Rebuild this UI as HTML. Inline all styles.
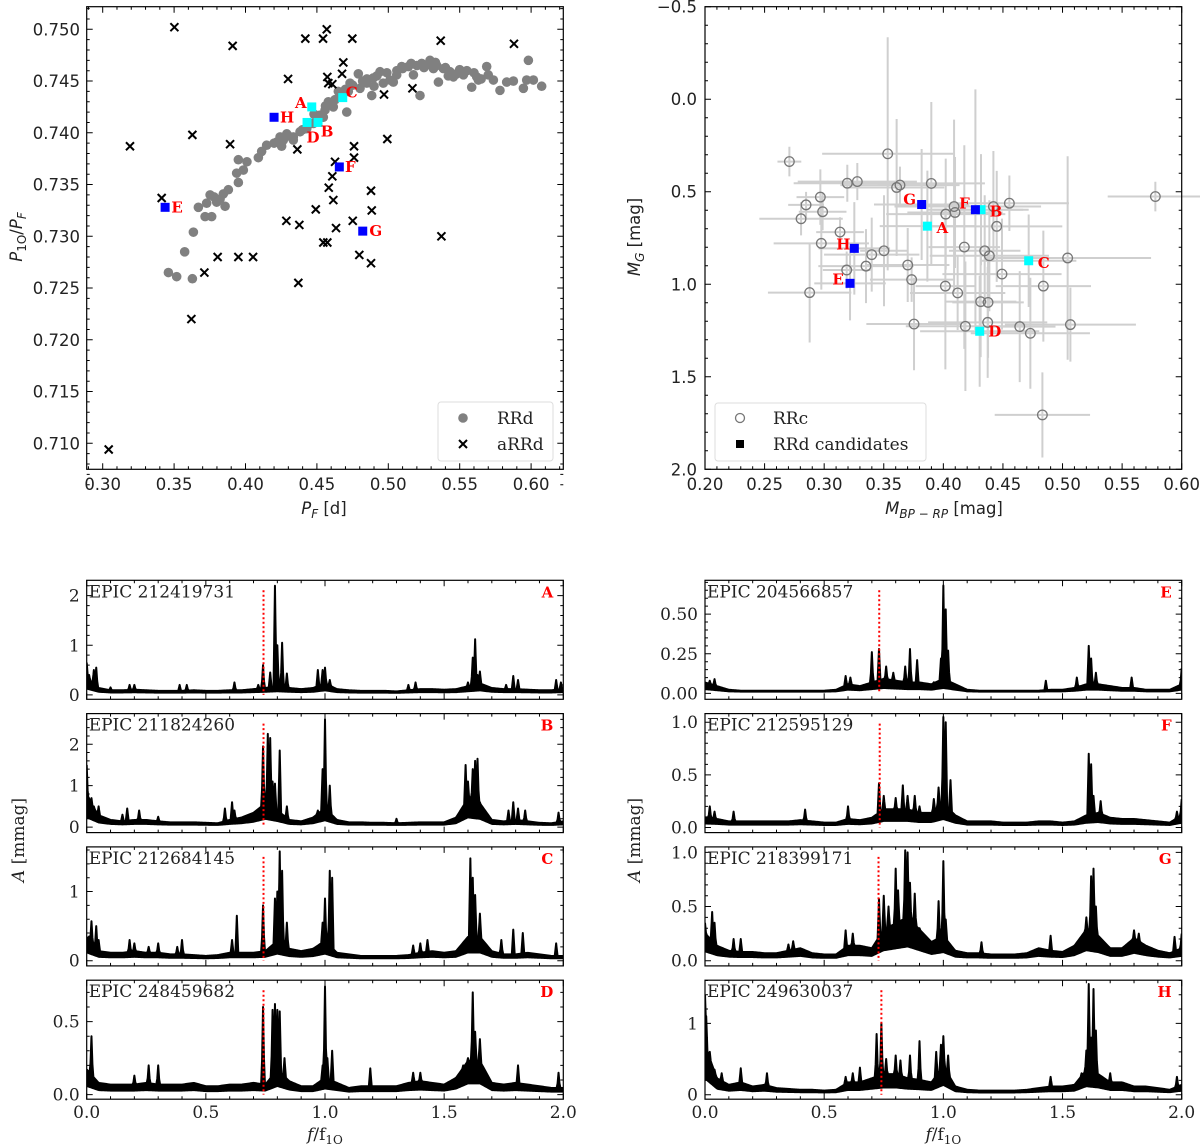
<!DOCTYPE html>
<html><head><meta charset="utf-8"><style>
body{margin:0;background:#fff}
svg{display:block}
.tk{font-family:"DejaVu Sans","Liberation Sans",sans-serif;font-size:16.5px;fill:#222}
.sf{font-family:"DejaVu Serif","Liberation Serif",serif;font-size:17px;fill:#222}
.lab{font-family:"DejaVu Serif","Liberation Serif",serif;font-weight:bold;font-size:15px;fill:#f00}
</style></head><body>
<svg id="fig" width="1200" height="1144" viewBox="0 0 1200 1144" xmlns="http://www.w3.org/2000/svg"></svg>
<script>
// ---------- Panel 1 data: period ratio vs fundamental period ----------
const rrdPF=[0.3460,0.3518,0.3628,0.3574,0.3635,0.3670,0.3717,0.3763,0.3728,0.3752,0.3798,0.3845,0.3857,0.3822,0.3950,0.3938,0.3985,0.3950,0.4090,0.4113,0.4148,0.4218,0.4242,0.4253,0.4289,0.4335,0.4382,0.4429,0.4475,0.4522,0.4557,0.4592,0.4627,0.4662,0.4709,0.4720,0.4732,0.4790,0.4802,0.4849,0.4884,0.4895,0.4942,0.4965,0.5012,0.5059,0.5094,0.5141,0.5176,0.5222,0.5234,0.5292,0.5316,0.5351,0.5386,0.5432,0.5479,0.5526,0.5584,0.5619,0.5689,0.5736,0.5782,0.5829,0.5876,0.5946,0.5981,0.5969,0.6016,0.6074,0.5339,0.5456,0.5631,0.5035,0.4615,0.4545,0.4335,0.4265,0.4500,0.4580,0.4650,0.4750,0.4850,0.4920,0.4990,0.5100,0.5200,0.5280,0.5400,0.5500,0.5600,0.5700,0.4200,0.4300,0.4400,0.4480,0.4560,0.4700,0.4820,0.4900,0.5060,0.5160,0.5250,0.5330,0.5420,0.5550,0.5650,0.3780,0.3880,0.4010];
const rrdRatio=[0.7265,0.7261,0.7259,0.7285,0.7304,0.7328,0.7319,0.7319,0.7332,0.7340,0.7333,0.7341,0.7329,0.7336,0.7352,0.7361,0.7364,0.7374,0.7376,0.7382,0.7388,0.7391,0.7396,0.7387,0.7399,0.7396,0.7401,0.7404,0.7409,0.7417,0.7422,0.7428,0.7432,0.7435,0.7420,0.7440,0.7448,0.7457,0.7443,0.7448,0.7436,0.7453,0.7459,0.7448,0.7451,0.7456,0.7464,0.7464,0.7456,0.7436,0.7467,0.7470,0.7462,0.7449,0.7462,0.7459,0.7457,0.7456,0.7444,0.7454,0.7464,0.7451,0.7441,0.7449,0.7450,0.7443,0.7470,0.7451,0.7451,0.7445,0.7465,0.7454,0.7451,0.7449,0.7425,0.7415,0.7393,0.7393,0.7412,0.7430,0.7440,0.7446,0.7452,0.7455,0.7458,0.7462,0.7465,0.7466,0.7463,0.7461,0.7458,0.7456,0.7390,0.7397,0.7403,0.7418,0.7426,0.7442,0.7450,0.7445,0.7460,0.7467,0.7463,0.7468,0.7455,0.7460,0.7452,0.7338,0.7345,0.7372];
const arrdPF=[0.3502,0.3910,0.4569,0.4419,0.4543,0.4748,0.5367,0.5880,0.4685,0.4676,0.4573,0.4580,0.4608,0.4298,0.4970,0.5169,0.3628,0.3191,0.3892,0.4363,0.4760,0.4993,0.4760,0.4627,0.4608,0.4583,0.4615,0.4879,0.3413,0.4492,0.4884,0.4286,0.4377,0.4751,0.4634,0.5372,0.4545,0.4573,0.3805,0.3950,0.4053,0.4797,0.4879,0.3712,0.4370,0.3621,0.3042];
const arrdRatio=[0.7502,0.7484,0.7500,0.7491,0.7491,0.7491,0.7489,0.7486,0.7468,0.7457,0.7454,0.7448,0.7447,0.7452,0.7437,0.7443,0.7398,0.7387,0.7389,0.7384,0.7387,0.7394,0.7376,0.7372,0.7358,0.7347,0.7335,0.7344,0.7337,0.7326,0.7325,0.7315,0.7311,0.7315,0.7308,0.7300,0.7294,0.7294,0.7280,0.7280,0.7280,0.7282,0.7274,0.7265,0.7255,0.7220,0.7094];
const candNames=["A","B","C","D","E","F","G","H"];
const candColor=["#00ffff","#00ffff","#00ffff","#00ffff","#0000ff","#0000ff","#0000ff","#0000ff"];
const candPF=[0.4464,0.4508,0.4681,0.4431,0.3437,0.4657,0.4821,0.4200];
const candRatio=[0.7425,0.7410,0.7434,0.7410,0.7328,0.7367,0.7305,0.7415];
const xTicks1=[0.30,0.35,0.40,0.45,0.50,0.55,0.60];
const yTicks1=[0.710,0.715,0.720,0.725,0.730,0.735,0.740,0.745,0.750];
// ---------- Panel 2 data: CMD ----------
const rrcColor=[0.2708,0.3533,0.3194,0.3278,0.3608,0.3636,0.3899,0.2968,0.2848,0.2987,0.2806,0.3133,0.2976,0.4090,0.4020,0.4098,0.4420,0.4554,0.4448,0.3399,0.3502,0.3351,0.3189,0.2878,0.3701,0.3734,0.4176,0.4347,0.4386,0.4492,0.4017,0.4120,0.4313,0.4375,0.5043,0.4839,0.3754,0.4185,0.4372,0.4641,0.4730,0.5066,0.5779,0.4831];
const rrcMG=[0.337,0.295,0.454,0.445,0.477,0.464,0.455,0.529,0.571,0.608,0.646,0.718,0.779,0.580,0.621,0.612,0.580,0.562,0.687,0.840,0.819,0.902,0.923,1.045,0.896,0.975,0.799,0.819,0.846,0.945,1.010,1.047,1.094,1.098,0.858,1.010,1.215,1.227,1.206,1.229,1.265,1.218,0.526,1.706];
const rrcXerr=[0.010,0.055,0.045,0.050,0.040,0.050,0.045,0.020,0.015,0.020,0.035,0.020,0.040,0.050,0.050,0.040,0.040,0.050,0.055,0.040,0.020,0.040,0.020,0.035,0.035,0.035,0.030,0.030,0.050,0.050,0.025,0.040,0.030,0.030,0.070,0.040,0.040,0.050,0.050,0.030,0.050,0.055,0.040,0.040];
const rrcYerr=[0.08,0.63,0.10,0.10,0.37,0.10,0.44,0.15,0.07,0.10,0.09,0.08,0.25,0.47,0.30,0.30,0.30,0.15,0.30,0.20,0.30,0.20,0.10,0.27,0.20,0.12,0.55,0.30,0.30,0.30,0.45,0.20,0.30,0.30,0.55,0.30,0.25,0.35,0.30,0.30,0.30,0.20,0.08,0.23];
const candCol=[0.3866,0.4316,0.4716,0.4305,0.3217,0.4269,0.3818,0.3253];
const candMG=[0.686,0.597,0.873,1.254,0.995,0.597,0.569,0.806];
const candXerr=[0.04,0.04,0.04,0.05,0.03,0.04,0.04,0.03];
const candYerr=[0.30,0.30,0.25,0.30,0.20,0.65,0.30,0.25];
const xTicks2=[0.20,0.25,0.30,0.35,0.40,0.45,0.50,0.55,0.60];
const yTicks2=[-0.5,0.0,0.5,1.0,1.5,2.0];
// ---------- Periodograms ----------
const epicIds=["EPIC 212419731","EPIC 211824260","EPIC 212684145","EPIC 248459682","EPIC 204566857","EPIC 212595129","EPIC 218399171","EPIC 249630037"];
const specLetters=["A","B","C","D","E","F","G","H"];
const ratioLine=[0.742,0.742,0.742,0.742,0.731,0.733,0.728,0.740];
const yLims=[[-0.09,2.31],[-0.133,2.74],[-0.075,1.645],[-0.031,0.783],[-0.037,0.713],[-0.049,1.082],[-0.048,1.051],[-0.063,1.604]];
const yTickVals=[[0,1,2],[0,1,2],[0,1],[0,0.5],[0,0.25,0.5],[0,0.5,1.0],[0,0.5,1.0],[0,1]];
const yTickLabels=[["0","1","2"],["0","1","2"],["0","1"],["0.0","0.5"],["0.00","0.25","0.50"],["0.0","0.5","1.0"],["0.0","0.5","1.0"],["0","1"]];
const yMinor=[0.2,0.2,0.2,0.1,0.05,0.1,0.1,0.2];
const baseA=[0.3,0.12,0.08,0.08,0.09,0.08,0.07,0.07,0.07,0.08,0.07,0.07,0.08,0.08,0.1,0.12,0.15,0.12,0.1,0.12,0.2,0.1,0.08,0.07,0.07,0.07,0.06,0.08,0.1,0.1,0.09,0.1,0.15,0.2,0.12,0.1,0.1,0.09,0.08,0.08,0.1];
const baseB=[0.6,0.25,0.15,0.12,0.15,0.15,0.12,0.1,0.1,0.1,0.09,0.08,0.15,0.2,0.3,0.5,0.35,0.15,0.12,0.2,0.4,0.15,0.1,0.1,0.09,0.09,0.08,0.09,0.1,0.1,0.1,0.2,0.6,0.5,0.15,0.12,0.15,0.12,0.09,0.08,0.12];
const baseC=[0.3,0.12,0.1,0.1,0.12,0.1,0.1,0.08,0.08,0.07,0.06,0.07,0.1,0.1,0.1,0.12,0.25,0.15,0.12,0.15,0.25,0.1,0.08,0.06,0.06,0.06,0.06,0.07,0.1,0.12,0.1,0.12,0.3,0.3,0.12,0.08,0.08,0.1,0.08,0.06,0.06];
const baseD=[0.15,0.07,0.06,0.06,0.06,0.07,0.06,0.06,0.06,0.07,0.05,0.05,0.06,0.06,0.07,0.06,0.15,0.08,0.05,0.05,0.1,0.07,0.04,0.05,0.05,0.05,0.05,0.07,0.08,0.07,0.06,0.1,0.2,0.2,0.07,0.06,0.07,0.06,0.05,0.04,0.04];
const baseE=[0.06,0.04,0.02,0.015,0.015,0.015,0.015,0.015,0.015,0.015,0.015,0.02,0.05,0.04,0.06,0.08,0.07,0.06,0.06,0.05,0.08,0.05,0.02,0.015,0.015,0.015,0.015,0.015,0.015,0.02,0.02,0.03,0.05,0.05,0.04,0.03,0.03,0.02,0.02,0.02,0.05];
const baseF=[0.08,0.07,0.05,0.05,0.05,0.05,0.05,0.05,0.06,0.05,0.04,0.04,0.07,0.06,0.08,0.15,0.15,0.15,0.12,0.12,0.2,0.1,0.05,0.05,0.05,0.04,0.04,0.04,0.05,0.05,0.04,0.05,0.1,0.12,0.08,0.07,0.07,0.06,0.05,0.04,0.1];
const baseG=[0.22,0.12,0.08,0.07,0.07,0.06,0.06,0.08,0.1,0.06,0.05,0.05,0.12,0.12,0.1,0.25,0.3,0.35,0.25,0.15,0.2,0.08,0.06,0.06,0.05,0.05,0.05,0.06,0.1,0.08,0.07,0.12,0.25,0.2,0.1,0.1,0.18,0.12,0.08,0.06,0.1];
const baseH=[0.6,0.2,0.12,0.15,0.1,0.12,0.08,0.07,0.06,0.06,0.05,0.06,0.15,0.15,0.2,0.25,0.25,0.2,0.18,0.15,0.35,0.1,0.06,0.05,0.05,0.05,0.05,0.06,0.08,0.1,0.1,0.12,0.3,0.25,0.15,0.15,0.1,0.1,0.08,0.06,0.12];
const peakFA=[0.0,0.01,0.03,0.04,0.1,0.18,0.2,0.39,0.42,0.62,0.72,0.74,0.77,0.79,0.8,0.82,0.84,0.97,0.99,1.0,1.02,1.35,1.38,1.6,1.62,1.63,1.64,1.65,1.76,1.79,1.81,1.97,1.99];
const peakAA=[0.65,0.4,0.5,0.55,0.15,0.2,0.2,0.2,0.2,0.25,0.2,0.6,0.45,2.2,1.0,1.05,0.43,0.5,0.5,0.55,0.3,0.2,0.25,0.25,0.75,1.12,0.4,0.47,0.2,0.38,0.3,0.3,0.25];
const peakFB=[0.0,0.01,0.02,0.03,0.05,0.15,0.17,0.22,0.3,0.58,0.61,0.62,0.74,0.76,0.77,0.78,0.79,0.81,0.84,0.97,0.99,1.0,1.02,1.3,1.59,1.6,1.61,1.62,1.63,1.64,1.65,1.67,1.77,1.79,1.81,1.84,1.98];
const peakAB=[1.5,0.7,0.7,0.5,0.5,0.3,0.45,0.4,0.25,0.45,0.6,0.4,1.95,2.25,2.15,1.1,1.05,1.85,0.5,0.4,1.4,2.6,1.0,0.2,1.5,1.1,0.7,1.4,1.6,1.65,0.6,0.4,0.4,0.6,0.45,0.4,0.35];
const peakFC=[0.01,0.02,0.04,0.05,0.18,0.2,0.26,0.3,0.38,0.4,0.61,0.63,0.74,0.79,0.8,0.81,0.82,0.84,0.99,1.0,1.02,1.03,1.37,1.4,1.43,1.59,1.61,1.62,1.63,1.65,1.74,1.79,1.83,1.97];
const peakAC=[0.35,0.57,0.5,0.3,0.3,0.25,0.2,0.25,0.2,0.3,0.3,0.65,0.8,0.9,1.0,1.58,1.3,0.55,0.55,0.9,1.3,1.2,0.22,0.25,0.3,0.3,1.48,1.2,0.95,0.68,0.3,0.45,0.4,0.25];
const peakFD=[0.02,0.2,0.26,0.3,0.74,0.78,0.79,0.8,0.81,0.83,0.99,1.0,1.01,1.03,1.19,1.37,1.4,1.58,1.6,1.62,1.63,1.65,1.81,1.98];
const peakAD=[0.4,0.13,0.2,0.2,0.6,0.58,0.62,0.58,0.57,0.25,0.2,0.74,0.25,0.3,0.18,0.15,0.15,0.2,0.25,0.7,0.43,0.38,0.2,0.15];
const peakFE=[0.0,0.02,0.04,0.59,0.61,0.7,0.73,0.76,0.79,0.84,0.86,0.89,0.96,0.99,1.0,1.01,1.02,1.43,1.56,1.61,1.62,1.64,1.79,2.0];
const peakAE=[0.06,0.08,0.09,0.11,0.1,0.26,0.28,0.17,0.13,0.17,0.28,0.21,0.07,0.22,0.68,0.53,0.27,0.08,0.1,0.3,0.22,0.13,0.1,0.16];
const peakFF=[0.02,0.04,0.12,0.42,0.6,0.73,0.75,0.8,0.83,0.85,0.88,0.9,0.96,0.98,1.0,1.01,1.03,1.61,1.62,1.63,1.66,1.98,2.0];
const peakAF=[0.2,0.15,0.15,0.17,0.2,0.42,0.3,0.28,0.4,0.3,0.3,0.2,0.27,0.38,1.05,1.0,0.45,0.7,0.6,0.3,0.25,0.15,0.27];
const peakFG=[0.0,0.01,0.03,0.04,0.12,0.15,0.35,0.37,0.59,0.62,0.73,0.75,0.77,0.8,0.81,0.84,0.85,0.86,0.88,0.9,0.98,1.0,1.01,1.16,1.45,1.6,1.62,1.63,1.64,1.8,1.82,1.97,2.0];
const peakAG=[0.35,0.2,0.45,0.35,0.2,0.2,0.15,0.18,0.28,0.25,0.57,0.6,0.5,0.85,0.65,1.02,1.0,0.72,0.62,0.3,0.55,0.92,0.38,0.17,0.23,0.4,0.78,0.85,0.5,0.28,0.25,0.22,0.25];
const peakFH=[0.0,0.005,0.01,0.02,0.04,0.07,0.15,0.26,0.59,0.62,0.65,0.72,0.74,0.76,0.8,0.82,0.86,0.9,0.97,0.99,1.0,1.02,1.45,1.58,1.6,1.61,1.62,1.63,1.64,1.7,1.98];
const peakAH=[1.4,1.1,0.6,0.6,0.35,0.3,0.37,0.3,0.25,0.3,0.38,0.85,1.0,0.5,0.55,0.48,0.55,0.75,0.6,0.7,0.82,0.55,0.25,0.3,0.62,1.55,0.8,1.48,0.9,0.3,0.25];
const baselines=[baseA,baseB,baseC,baseD,baseE,baseF,baseG,baseH];
const peakFreqs=[peakFA,peakFB,peakFC,peakFD,peakFE,peakFF,peakFG,peakFH];
const peakAmps=[peakAA,peakAB,peakAC,peakAD,peakAE,peakAF,peakAG,peakAH];
const xTicksSpec=[0,0.5,1.0,1.5,2.0];

const NS="http://www.w3.org/2000/svg";
const svg=document.getElementById('fig');
function el(tag,attrs,parent,text){const e=document.createElementNS(NS,tag);for(const k in attrs)e.setAttribute(k,attrs[k]);if(text!==undefined)e.textContent=text;(parent||svg).appendChild(e);return e;}
function lin(d0,d1,r0,r1){return v=>r0+(v-d0)*(r1-r0)/(d1-d0);}
function ticksAll(g,X0,Y0,W,H,sx,sy,xmaj,xmin,ymaj,ymin){
  const p=[];
  xmaj.forEach(v=>{const x=sx(v);p.push(`M${x},${Y0+H}v-6M${x},${Y0}v6`);});
  xmin.forEach(v=>{const x=sx(v);p.push(`M${x},${Y0+H}v-3M${x},${Y0}v3`);});
  ymaj.forEach(v=>{const y=sy(v);p.push(`M${X0},${y}h6M${X0+W},${y}h-6`);});
  ymin.forEach(v=>{const y=sy(v);p.push(`M${X0},${y}h3M${X0+W},${y}h-3`);});
  const t=el('path',{d:p.join(''),stroke:'#000','stroke-width':1},g);
  
  
}
function range(a,b,s){const r=[];for(let v=a;v<=b+1e-9;v+=s)r.push(+v.toFixed(6));return r;}
function frame(g,X0,Y0,W,H){const r=el('rect',{x:X0,y:Y0,width:W,height:H,fill:'none',stroke:'#000','stroke-width':1.2},g);}

// ===== Panel 1 =====
(function(){
  const X0=86.7,Y0=6.7,W=476.6,H=462.6;
  const sx=lin(0.30,0.60,102.7,531.1), sy=lin(0.750,0.710,29.3,443.3);
  const g=el('g',{});  
  const dots=el('g',{},g);  
  rrdPF.forEach((v,i)=>{const c=el('circle',{cx:sx(v),cy:sy(rrdRatio[i]),r:4.8,fill:'#808080'},dots);});
  const xs=el('g',{},g);  
  arrdPF.forEach((v,i)=>{const x=sx(v),y=sy(arrdRatio[i]);const p=el('path',{d:`M${x-4},${y-4}L${x+4},${y+4}M${x-4},${y+4}L${x+4},${y-4}`,stroke:'#000','stroke-width':2},xs);});
  const off=[[-11,-4],[9,9],[9,-5],[6,15],[12,0],[11,0],[13,0],[13,0]];
  candPF.forEach((v,i)=>{const x=sx(v),y=sy(candRatio[i]);
    const r=el('rect',{x:x-4.5,y:y-4.5,width:9,height:9,fill:candColor[i]},g);
    const t=el('text',{x:x+off[i][0],y:y+off[i][1]+5,class:'lab','text-anchor':'middle'},g,candNames[i]);});
  frame(g,X0,Y0,W,H);
  ticksAll(g,X0,Y0,W,H,sx,sy,xTicks1,range(0.29,0.62,0.01),yTicks1,range(0.706,0.752,0.001));
  xTicks1.forEach(v=>{const t=el('text',{x:sx(v),y:490,class:'tk','text-anchor':'middle'},g,v.toFixed(2));});
  yTicks1.forEach(v=>{const t=el('text',{x:80,y:sy(v)+6,class:'tk','text-anchor':'end'},g,v.toFixed(3));});
  const xl=el('text',{x:324,y:514,class:'tk','text-anchor':'middle','font-size':'17px'},g);xl.innerHTML='<tspan font-style="italic">P</tspan><tspan font-style="italic" font-size="12px" dy="4">F</tspan><tspan dy="-4"> [d]</tspan>';
  const yl=el('text',{x:0,y:0,class:'tk','text-anchor':'middle',transform:'translate(22,237) rotate(-90)'},g);yl.innerHTML='<tspan font-style="italic">P</tspan><tspan font-size="12px" dy="4">1O</tspan><tspan dy="-4">/</tspan><tspan font-style="italic">P</tspan><tspan font-style="italic" font-size="12px" dy="4">F</tspan>';
  const lg=el('g',{},g);
  el('rect',{x:438,y:402,width:115,height:59,rx:3,fill:'#fff',stroke:'#ddd'},lg);
  el('circle',{cx:463,cy:418,r:4.8,fill:'#808080'},lg);
  el('text',{x:497,y:424,class:'sf'},lg,'RRd');
  el('path',{d:'M459,440L467,448M459,448L467,440',stroke:'#000','stroke-width':2},lg);
  el('text',{x:497,y:450,class:'sf'},lg,'aRRd');
})();

// ===== Panel 2 =====
(function(){
  const X0=705,Y0=6.7,W=476.7,H=462.6;
  const sx=lin(0.2,0.6,705,1181.7), sy=lin(-0.5,2.0,6.7,469.3);
  const g=el('g',{});  
  const eb=el('g',{},g);
  function bar(x,y,xe,ye){const p=el('path',{d:`M${sx(x-xe)},${sy(y)}H${sx(x+xe)}M${sx(x)},${sy(y-ye)}V${sy(y+ye)}`,stroke:'#cfcfcf','stroke-width':2},eb);}
  rrcColor.forEach((v,i)=>bar(v,rrcMG[i],rrcXerr[i],rrcYerr[i]));
  candCol.forEach((v,i)=>bar(v,candMG[i],candXerr[i],candYerr[i]));
  rrcColor.forEach((v,i)=>{const c=el('circle',{cx:sx(v),cy:sy(rrcMG[i]),r:4.8,fill:'none',stroke:'#777','stroke-width':1.3},g);});
  const off=[[15,2],[15,2],[15,2],[15,0],[-12,-4],[-11,-6],[-12,-5],[-11,-4]];
  candCol.forEach((v,i)=>{const x=sx(v),y=sy(candMG[i]);
    const r=el('rect',{x:x-4.5,y:y-4.5,width:9,height:9,fill:candColor[i]},g);
    const t=el('text',{x:x+off[i][0],y:y+off[i][1]+5,class:'lab','text-anchor':'middle'},g,candNames[i]);});
  frame(g,X0,Y0,W,H);
  ticksAll(g,X0,Y0,W,H,sx,sy,xTicks2,range(0.2,0.6,0.01),yTicks2,range(-0.5,2.0,0.1));
  xTicks2.forEach(v=>{const t=el('text',{x:sx(v),y:490,class:'tk','text-anchor':'middle'},g,v.toFixed(2));});
  yTicks2.forEach(v=>{const t=el('text',{x:697,y:sy(v)+6,class:'tk','text-anchor':'end'},g,(v<0?'\u2212':'')+Math.abs(v).toFixed(1));});
  const xl=el('text',{x:944,y:514,class:'tk','text-anchor':'middle'},g);xl.innerHTML='<tspan font-style="italic">M</tspan><tspan font-style="italic" font-size="12px" dy="4">BP − RP</tspan><tspan dy="-4"> [mag]</tspan>';
  const yl=el('text',{x:0,y:0,class:'tk','text-anchor':'middle',transform:'translate(640,237) rotate(-90)'},g);yl.innerHTML='<tspan font-style="italic">M</tspan><tspan font-style="italic" font-size="12px" dy="4">G</tspan><tspan dy="-4"> [mag]</tspan>';
  const lg=el('g',{},g);
  el('rect',{x:715,y:403,width:211,height:58,rx:3,fill:'#fff',stroke:'#ddd'},lg);
  el('circle',{cx:740,cy:418,r:4.5,fill:'none',stroke:'#777','stroke-width':1.3},lg);
  el('text',{x:773,y:424,class:'sf'},lg,'RRc');
  el('rect',{x:736,y:440,width:8,height:8,fill:'#000'},lg);
  el('text',{x:773,y:450,class:'sf'},lg,'RRd candidates');
})();

// ===== Periodograms =====
(function(){
  const colX=[86.7,705], W=[476.6,476.7], tops=[580.3,713.6,846.9,980.2], H=119;
  const xmin=range(0,2,0.1);
  for(let k=0;k<8;k++){
    const col=k<4?0:1, row=k%4, X0=colX[col], Y0=tops[row], w=W[col];
    const sx=lin(0,2,X0,X0+w), sy=lin(yLims[k][0],yLims[k][1],Y0+H,Y0);
    const g=el('g',{});
    const cp=el('clipPath',{id:'cp'+k},g);el('rect',{x:X0,y:Y0,width:w,height:H},cp);
    const base=baselines[k], pf=peakFreqs[k], pa=peakAmps[k];
    const fset=new Set();for(let f=0;f<=2.0001;f+=0.004)fset.add(+f.toFixed(4));
    pf.forEach(f=>{fset.add(+f.toFixed(4));});
    const fs=[...fset].sort((a,b)=>a-b);
    const upper=[],lower=[];
    fs.forEach(f=>{const i=Math.min(39,Math.floor(f/0.05));const t=(f-i*0.05)/0.05;const b=base[i]*(1-t)+base[i+1]*t;let v=b*1.15;
      pf.forEach((p,j)=>{const d=Math.abs(f-p);if(d<0.006){v=Math.max(v,pa[j]*(1-d/0.006)+b*(d/0.006));}});
      upper.push(sx(f).toFixed(2)+','+sy(v).toFixed(2));
      lower.push(sx(f).toFixed(2)+','+sy(b*0.35).toFixed(2));});
    const band=el('polygon',{points:upper.concat(lower.reverse()).join(' '),fill:'#000','clip-path':`url(#cp${k})`},g);
    
    const line=el('polyline',{points:upper.join(' '),fill:'none',stroke:'#000','stroke-width':2,'stroke-linejoin':'round','clip-path':`url(#cp${k})`},g);
    
    const rl=el('line',{x1:sx(ratioLine[k]),x2:sx(ratioLine[k]),y1:Y0+10,y2:sy(0),stroke:'#f00','stroke-width':2,'stroke-dasharray':'2,2.5'},g);
    
    frame(g,X0,Y0,w,H);
    const ym=range(0,yLims[k][1],yMinor[k]);
    ticksAll(g,X0,Y0,w,H,sx,sy,xTicksSpec,xmin,yTickVals[k],ym);
    yTickVals[k].forEach((v,i)=>{const t=el('text',{x:X0-7,y:sy(v)+6,class:'sf','text-anchor':'end'},g,yTickLabels[k][i]);});
    const id=el('text',{x:X0+2,y:Y0+17,class:'sf'},g,epicIds[k]);
    const lt=el('text',{x:X0+w-10,y:Y0+17,class:'lab','font-size':'13px','text-anchor':'end'},g,specLetters[k]);
    if(row===3){
      xTicksSpec.forEach(v=>{const t=el('text',{x:sx(v),y:1118,class:'sf','text-anchor':'middle'},g,v.toFixed(1));});
      const xl=el('text',{x:X0+w/2,y:1140,class:'sf','text-anchor':'middle'},g);xl.innerHTML='<tspan font-style="italic">f</tspan>/f<tspan font-size="12px" dy="4">1O</tspan>';
    }
  }
  [[24,'y-axis-title-left'],[640,'y-axis-title-right']].forEach(a=>{const t=el('text',{x:0,y:0,class:'sf','text-anchor':'middle',transform:`translate(${a[0]},840) rotate(-90)`});t.innerHTML='<tspan font-style="italic">A</tspan> [mmag]';});
})();
</script>
</body></html>
